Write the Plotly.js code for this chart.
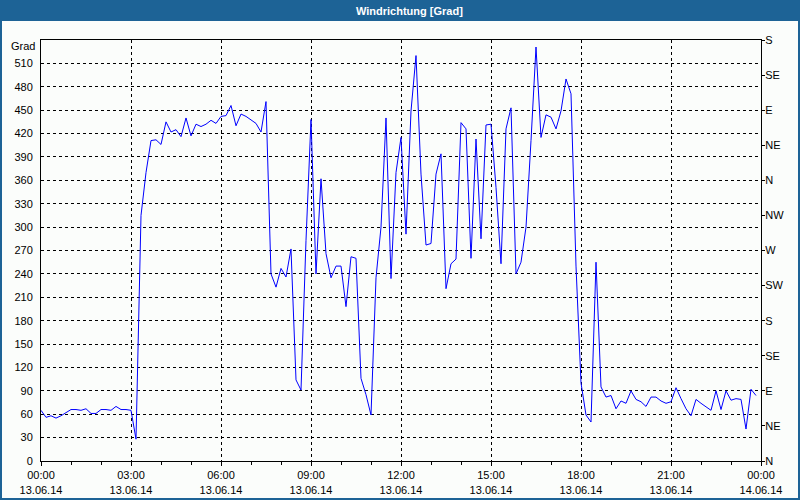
<!DOCTYPE html>
<html>
<head>
<meta charset="utf-8">
<script src="https://cdn.plot.ly/plotly-3.0.1.min.js"></script>
<style>
html,body{margin:0;padding:0;background:#fbfdfb;}
#chart{width:800px;height:500px;}
</style>
</head>
<body>
<div id="chart"></div>
<script>
// ---- data ----
const chartTitle = "Windrichtung [Grad]";
const yUnitLabel = "Grad";
const startTime = "2014-06-13T00:00:00";
const stepMinutes = 10;
const windDirection = [
  65, 56, 58, 55, 58, 62, 66, 66, 65, 67, 61, 61, 66, 66, 65, 70, 66, 66, 65, 28,
  315, 370, 411, 412, 406, 435, 422, 425, 416, 440, 417, 432, 429, 432, 437, 433,
  442, 443, 456, 430, 445, 442, 437, 433, 422, 461, 240, 223, 247, 236, 272, 104,
  91, 283, 438, 240, 362, 266, 235, 250, 250, 198, 262, 260, 106, 85, 59, 235,
  300, 440, 234, 370, 415, 291, 449, 520, 368, 277, 279, 368, 394, 221, 253, 259,
  434, 426, 260, 413, 285, 431, 432, 351, 253, 426, 453, 240, 255, 300, 411, 531,
  415, 444, 441, 426, 449, 490, 471, 250, 100, 59, 50, 255, 95, 82, 84, 67,
  77, 74, 90, 79, 76, 70, 82, 82, 77, 74, 76, 94, 80, 67, 58, 79,
  74, 70, 65, 90, 66, 90, 78, 80, 79, 41, 92, 84
];
const xTickTimes = ["2014-06-13 00:00","2014-06-13 03:00","2014-06-13 06:00","2014-06-13 09:00",
  "2014-06-13 12:00","2014-06-13 15:00","2014-06-13 18:00","2014-06-13 21:00","2014-06-14 00:00"];
const xTickClock = ["00:00","03:00","06:00","09:00","12:00","15:00","18:00","21:00","00:00"];
const xTickDate = ["13.06.14","13.06.14","13.06.14","13.06.14","13.06.14","13.06.14","13.06.14","13.06.14","14.06.14"];
const yTickVals = [0,30,60,90,120,150,180,210,240,270,300,330,360,390,420,450,480,510];
const compassVals = [0,45,90,135,180,225,270,315,360,405,450,495,540];
const compassText = ["N","NE","E","SE","S","SW","W","NW","N","NE","E","SE","S"];

// ---- build ----
function pad(n){return (n<10?"0":"")+n;}
const t0 = new Date(startTime + "Z").getTime();
const times = windDirection.map((_, i) => {
  const d = new Date(t0 + i*stepMinutes*60000);
  return d.getUTCFullYear()+"-"+pad(d.getUTCMonth()+1)+"-"+pad(d.getUTCDate())+" "+pad(d.getUTCHours())+":"+pad(d.getUTCMinutes());
});

const font = {family: "Liberation Sans, Arial, sans-serif", size: 11, color: "#000"};
const blue = "#1d6396";
const W = 800, H = 500, L = 41, R = 39, T = 40, B = 39;
const pw = W-L-R, ph = H-T-B;
function px2x(p){return (p-L)/pw;}
function py2y(p){return (H-B-p)/ph;}

const traces = [
  {x: times, y: windDirection, type: "scatter", mode: "lines",
   line: {color: "#0000ff", width: 1}, hoverinfo: "skip", showlegend: false},
  {x: [xTickTimes[0]], y: [0], type: "scatter", mode: "none", yaxis: "y2",
   hoverinfo: "skip", showlegend: false}
];

const layout = {
  width: W, height: H,
  margin: {l: L, r: R, t: T, b: B, pad: 0},
  paper_bgcolor: "#fbfdfb", plot_bgcolor: "#fbfdfb",
  font: font, showlegend: false,
  xaxis: {
    type: "date", range: [xTickTimes[0], xTickTimes[xTickTimes.length-1]],
    tickmode: "array", tickvals: xTickTimes,
    ticktext: xTickClock.map((c, i) => c + "<br>" + xTickDate[i]),
    ticks: "outside", ticklen: 4, tickcolor: "#000", tickwidth: 1,
    minor: {dtick: 3600000, ticks: "outside", ticklen: 3, tickcolor: "#000", showgrid: false},
    showgrid: true, gridcolor: "#000", gridwidth: 1, griddash: "3px,3px",
    showline: true, linecolor: "#000", linewidth: 1, mirror: true,
    zeroline: false, tickfont: font, fixedrange: true
  },
  yaxis: {
    range: [0, 540], tickmode: "array", tickvals: yTickVals,
    ticks: "outside", ticklen: 5, tickcolor: "rgba(0,0,0,0)",
    showgrid: true, gridcolor: "#000", gridwidth: 1, griddash: "3px,3px",
    showline: true, linecolor: "#000", linewidth: 1, mirror: true,
    zeroline: false, tickfont: font, fixedrange: true
  },
  yaxis2: {
    overlaying: "y", side: "right", range: [0, 540],
    tickmode: "array", tickvals: compassVals, ticktext: compassText,
    ticks: "outside", ticklen: 3, tickcolor: "#000", ticklabelstandoff: -2,
    showgrid: false, zeroline: false, showline: false,
    tickfont: font, fixedrange: true
  },
  shapes: [
    {type: "rect", xref: "paper", yref: "paper",
     x0: px2x(0), x1: px2x(800), y0: py2y(21), y1: py2y(0),
     fillcolor: blue, line: {width: 0}, layer: "above"},
    {type: "rect", xref: "paper", yref: "paper",
     x0: px2x(1), x1: px2x(799), y0: py2y(499), y1: py2y(1),
     fillcolor: "rgba(0,0,0,0)", line: {color: blue, width: 2}, layer: "above"}
  ],
  annotations: [
    {text: "<b>" + chartTitle + "</b>", xref: "paper", yref: "paper",
     x: px2x(409), y: py2y(10.5), xanchor: "center", yanchor: "middle",
     showarrow: false, font: {family: font.family, size: 11, color: "#ffffff"}},
    {text: yUnitLabel, xref: "paper", yref: "paper",
     x: px2x(37), y: py2y(46), xanchor: "right", yanchor: "middle",
     showarrow: false, font: font}
  ]
};

Plotly.newPlot("chart", traces, layout, {displayModeBar: false, staticPlot: true});
</script>
</body>
</html>
